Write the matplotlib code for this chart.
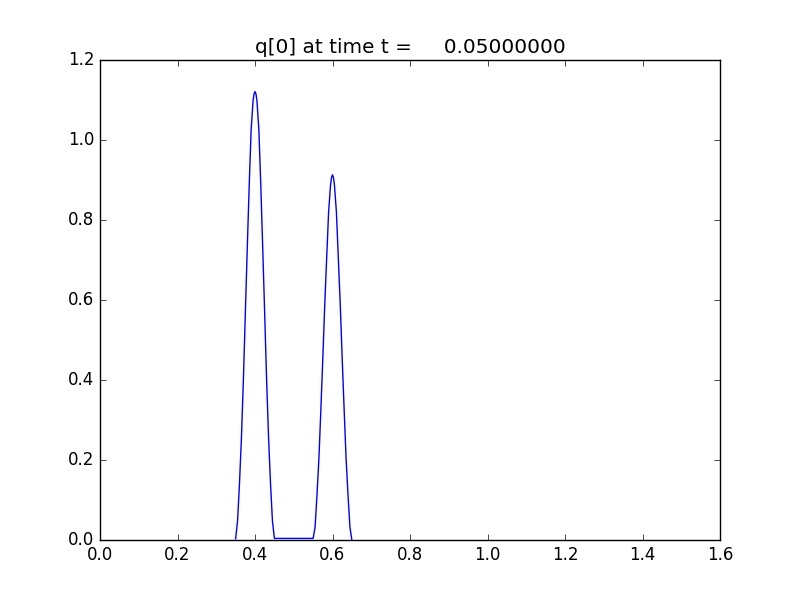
import matplotlib as mpl
mpl.use('Agg')
import matplotlib.pyplot as plt

plt.style.use('classic')

# q[0] profile (only the non-flat part is drawn)
x_bump1 = [0.350, 0.355, 0.360, 0.365, 0.370, 0.375, 0.380, 0.385, 0.390, 0.395, 0.3975,
           0.400, 0.4025, 0.405, 0.410, 0.415, 0.420, 0.425, 0.430, 0.435, 0.440, 0.445, 0.450]
q_bump1 = [0.003, 0.048, 0.142, 0.256, 0.399, 0.565, 0.728, 0.885, 1.025, 1.098, 1.115,
           1.121, 1.115, 1.098, 1.025, 0.885, 0.728, 0.565, 0.399, 0.256, 0.142, 0.048, 0.004]

x_mid = [0.455, 0.545]
q_mid = [0.004, 0.004]

x_bump2 = [0.550, 0.555, 0.560, 0.565, 0.570, 0.575, 0.580, 0.585, 0.590, 0.595, 0.5975,
           0.600, 0.6025, 0.605, 0.610, 0.615, 0.620, 0.625, 0.630, 0.635, 0.640, 0.645, 0.650]
q_bump2 = [0.004, 0.032, 0.113, 0.205, 0.327, 0.454, 0.589, 0.706, 0.821, 0.888, 0.906,
           0.913, 0.906, 0.888, 0.821, 0.706, 0.589, 0.454, 0.327, 0.205, 0.113, 0.032, 0.0]

xs = x_bump1 + x_mid + x_bump2
qs = q_bump1 + q_mid + q_bump2

fig = plt.figure(figsize=(8, 6))
ax = fig.add_subplot(111)
ax.plot(xs, qs, 'b-')
ax.set_xlim(0, 1.6)
ax.set_ylim(0, 1.2)
ax.set_title('q[0] at time t =     0.05000000')

fig.savefig('out.png', dpi=100)
